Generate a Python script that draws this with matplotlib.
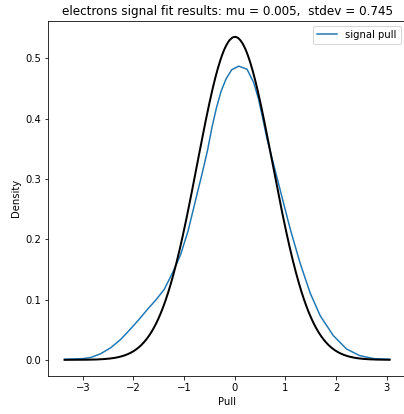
import numpy as np
import matplotlib
matplotlib.use("Agg")
import matplotlib.pyplot as plt

# Fit results shown in the title
mu = 0.005
stdev = 0.745

# Kernel density estimate of the signal pull distribution
pull_x = [-3.36, -3.0, -2.84, -2.65, -2.45, -2.25, -2.06, -1.89, -1.72, -1.55,
          -1.39, -1.23, -1.07, -0.92, -0.74, -0.64, -0.54, -0.45, -0.36, -0.27,
          -0.17, -0.06, 0.079, 0.244, 0.374, 0.47, 0.55, 0.64, 0.83, 1.10,
          1.29, 1.49, 1.69, 1.95, 2.21, 2.47, 2.75, 3.06]
pull_density = [0.001, 0.002, 0.004, 0.010, 0.020, 0.034, 0.051, 0.067, 0.084, 0.100,
                0.117, 0.144, 0.174, 0.214, 0.276, 0.310, 0.346, 0.385, 0.418, 0.445,
                0.466, 0.481, 0.487, 0.482, 0.460, 0.433, 0.402, 0.366, 0.304, 0.216,
                0.161, 0.111, 0.073, 0.040, 0.018, 0.007, 0.002, 0.001]

x_min, x_max = -3.36, 3.06

fig = plt.figure(figsize=(404 / 72, 414 / 72), dpi=72)
ax = fig.add_axes([0.1196, 0.0918, 0.885, 0.858])

ax.plot(pull_x, pull_density, color="#1f77b4", lw=1.5, label="signal pull")

gx = np.linspace(x_min, x_max, 400)
gauss = np.exp(-0.5 * ((gx - mu) / stdev) ** 2) / (stdev * np.sqrt(2 * np.pi))
ax.plot(gx, gauss, color="black", lw=2)

ax.set_title(f"electrons signal fit results: mu = {mu},  stdev = {stdev}")
ax.set_xlabel("Pull")
ax.set_ylabel("Density")
ax.legend(loc="upper right")

fig.savefig("out.png", dpi=72)
